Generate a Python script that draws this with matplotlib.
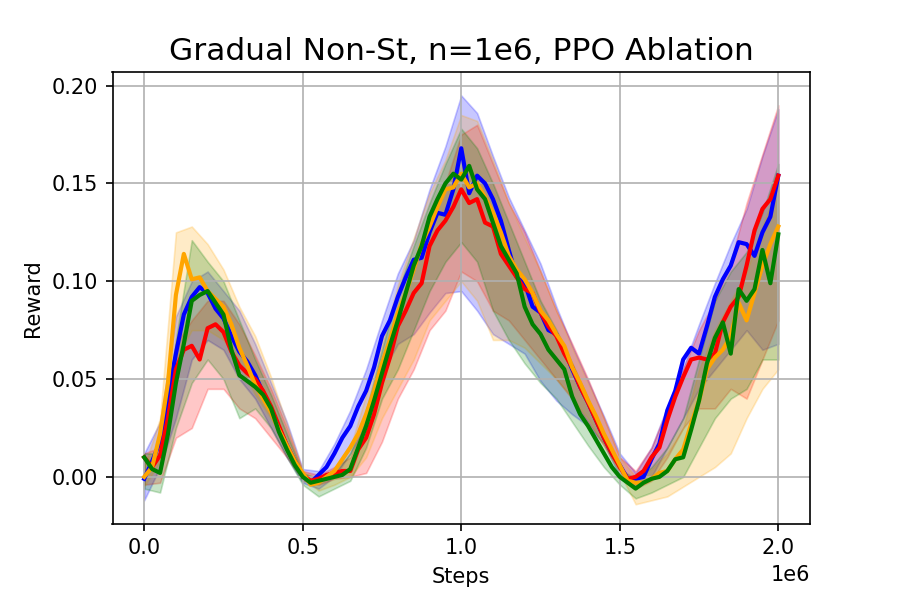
import numpy as np
import matplotlib
matplotlib.use("Agg")
import matplotlib.pyplot as plt
from matplotlib.ticker import MultipleLocator

# mean curves, read every 0.025e6 steps
steps = np.arange(81) * 0.025e6

blue_mean = [-0.001, 0.008, 0.018, 0.041, 0.063, 0.083, 0.092, 0.097, 0.094, 0.086,
             0.081, 0.072, 0.064, 0.059, 0.052, 0.043, 0.034, 0.025, 0.016, 0.008,
             0.001, -0.003, 0.001, 0.005, 0.012, 0.020, 0.026, 0.036, 0.044, 0.056,
             0.072, 0.080, 0.092, 0.102, 0.111, 0.112, 0.125, 0.135, 0.134, 0.147,
             0.168, 0.145, 0.154, 0.150, 0.142, 0.131, 0.116, 0.102, 0.099, 0.087,
             0.084, 0.075, 0.073, 0.065, 0.055, 0.046, 0.038, 0.029, 0.020, 0.012,
             0.006, -0.001, -0.001, 0.000, 0.009, 0.017, 0.034, 0.044, 0.060, 0.066,
             0.063, 0.077, 0.092, 0.101, 0.108, 0.120, 0.119, 0.113, 0.125, 0.133,
             0.154]
red_mean = [0.010, 0.005, 0.011, 0.030, 0.055, 0.065, 0.067, 0.060, 0.076, 0.078,
            0.074, 0.064, 0.057, 0.053, 0.050, 0.044, 0.036, 0.026, 0.016, 0.008,
            0.001, -0.002, -0.001, 0.001, 0.002, 0.003, 0.003, 0.014, 0.020, 0.032,
            0.048, 0.061, 0.077, 0.085, 0.094, 0.099, 0.118, 0.126, 0.131, 0.138,
            0.147, 0.140, 0.142, 0.130, 0.128, 0.114, 0.108, 0.102, 0.096, 0.094,
            0.084, 0.077, 0.072, 0.063, 0.056, 0.046, 0.038, 0.029, 0.020, 0.012,
            0.005, -0.001, 0.000, 0.003, 0.010, 0.015, 0.029, 0.041, 0.051, 0.060,
            0.061, 0.060, 0.063, 0.079, 0.087, 0.092, 0.108, 0.126, 0.137, 0.142,
            0.154]
orange_mean = [0.000, 0.005, 0.022, 0.048, 0.093, 0.114, 0.101, 0.102, 0.095, 0.091,
               0.087, 0.078, 0.066, 0.057, 0.047, 0.040, 0.033, 0.024, 0.016, 0.008,
               0.002, -0.004, -0.003, 0.000, 0.003, 0.009, 0.015, 0.022, 0.032, 0.044,
               0.058, 0.070, 0.084, 0.094, 0.106, 0.119, 0.128, 0.138, 0.147, 0.148,
               0.155, 0.148, 0.150, 0.143, 0.135, 0.125, 0.113, 0.106, 0.101, 0.094,
               0.085, 0.080, 0.073, 0.067, 0.056, 0.048, 0.039, 0.031, 0.022, 0.014,
               0.006, -0.002, -0.003, -0.003, -0.001, 0.002, 0.003, 0.009, 0.014, 0.027,
               0.039, 0.055, 0.061, 0.065, 0.072, 0.089, 0.080, 0.094, 0.108, 0.119,
               0.128]
green_mean = [0.010, 0.004, 0.002, 0.022, 0.048, 0.068, 0.090, 0.093, 0.095, 0.089,
              0.083, 0.065, 0.052, 0.049, 0.046, 0.042, 0.035, 0.023, 0.014, 0.006,
              0.000, -0.003, -0.002, -0.001, 0.000, 0.001, 0.004, 0.015, 0.026, 0.039,
              0.053, 0.067, 0.080, 0.094, 0.108, 0.118, 0.133, 0.142, 0.150, 0.155,
              0.152, 0.159, 0.147, 0.142, 0.130, 0.118, 0.111, 0.104, 0.087, 0.078,
              0.073, 0.065, 0.060, 0.055, 0.041, 0.032, 0.026, 0.019, 0.012, 0.005,
              0.000, -0.003, -0.006, -0.003, -0.001, 0.000, 0.003, 0.009, 0.010, 0.024,
              0.039, 0.058, 0.071, 0.079, 0.063, 0.096, 0.090, 0.096, 0.116, 0.099,
              0.124]

# shaded bands, read every 0.05e6 steps
band_steps = np.arange(41) * 0.05e6

blue_lo = [-0.012, 0.005, 0.030, 0.060, 0.070, 0.065, 0.050, 0.040, 0.025, 0.010,
           -0.003, -0.006, 0.000, 0.012, 0.026, 0.053, 0.068, 0.073, 0.084, 0.094,
           0.095, 0.085, 0.073, 0.068, 0.063, 0.049, 0.039, 0.032, 0.026, 0.017,
           0.000, -0.005, 0.000, 0.015, 0.030, 0.045, 0.055, 0.065, 0.075, 0.065,
           0.068]
blue_hi = [0.012, 0.028, 0.082, 0.100, 0.105, 0.095, 0.085, 0.068, 0.048, 0.028,
           0.004, 0.003, 0.017, 0.034, 0.055, 0.080, 0.104, 0.121, 0.147, 0.169,
           0.195, 0.186, 0.164, 0.143, 0.126, 0.109, 0.087, 0.067, 0.049, 0.031,
           0.012, 0.002, 0.015, 0.036, 0.056, 0.078, 0.099, 0.119, 0.137, 0.164,
           0.188]
red_lo = [-0.004, -0.003, 0.020, 0.025, 0.045, 0.045, 0.035, 0.030, 0.020, 0.010,
          -0.002, -0.004, -0.001, 0.000, 0.002, 0.018, 0.040, 0.055, 0.075, 0.085,
          0.105, 0.100, 0.085, 0.080, 0.070, 0.060, 0.050, 0.040, 0.028, 0.016,
          0.003, -0.006, -0.002, 0.010, 0.025, 0.035, 0.035, 0.045, 0.040, 0.060,
          0.080]
red_hi = [0.012, 0.015, 0.068, 0.080, 0.090, 0.090, 0.078, 0.062, 0.045, 0.025,
          0.003, 0.001, 0.005, 0.010, 0.030, 0.060, 0.085, 0.105, 0.130, 0.150,
          0.175, 0.180, 0.160, 0.140, 0.125, 0.105, 0.085, 0.068, 0.050, 0.030,
          0.010, 0.003, 0.015, 0.035, 0.055, 0.075, 0.090, 0.110, 0.140, 0.165,
          0.190]
orange_lo = [-0.005, 0.008, 0.060, 0.075, 0.075, 0.070, 0.058, 0.042, 0.030, 0.015,
             0.000, -0.007, -0.004, 0.000, 0.010, 0.030, 0.045, 0.060, 0.080, 0.090,
             0.100, 0.090, 0.070, 0.070, 0.066, 0.058, 0.050, 0.040, 0.030, 0.016,
             0.002, -0.014, -0.012, -0.010, -0.005, 0.000, 0.005, 0.012, 0.030, 0.045,
             0.055]
orange_hi = [0.005, 0.030, 0.125, 0.128, 0.119, 0.106, 0.087, 0.072, 0.051, 0.027,
             0.003, -0.001, 0.004, 0.015, 0.042, 0.068, 0.098, 0.122, 0.145, 0.162,
             0.185, 0.182, 0.162, 0.140, 0.122, 0.105, 0.085, 0.066, 0.048, 0.030,
             0.010, 0.000, 0.004, 0.012, 0.025, 0.055, 0.075, 0.090, 0.105, 0.128,
             0.150]
green_lo = [-0.006, -0.008, 0.025, 0.048, 0.060, 0.050, 0.030, 0.035, 0.025, 0.010,
            -0.004, -0.010, -0.006, -0.002, 0.015, 0.040, 0.055, 0.075, 0.095, 0.110,
            0.120, 0.110, 0.085, 0.070, 0.058, 0.048, 0.040, 0.028, 0.016, 0.005,
            -0.004, -0.011, -0.008, -0.004, 0.000, 0.015, 0.030, 0.040, 0.045, 0.060,
            0.060]
green_hi = [0.012, 0.012, 0.070, 0.121, 0.110, 0.100, 0.080, 0.060, 0.042, 0.022,
            0.002, -0.001, 0.002, 0.012, 0.034, 0.065, 0.095, 0.118, 0.140, 0.160,
            0.178, 0.168, 0.150, 0.130, 0.110, 0.090, 0.075, 0.058, 0.040, 0.022,
            0.004, -0.001, 0.005, 0.015, 0.030, 0.060, 0.090, 0.105, 0.115, 0.135,
            0.160]

series = [
    ("blue", blue_mean, blue_lo, blue_hi),
    ("red", red_mean, red_lo, red_hi),
    ("orange", orange_mean, orange_lo, orange_hi),
    ("green", green_mean, green_lo, green_hi),
]

fig = plt.figure(figsize=(6, 4), dpi=150)
fig.subplots_adjust(left=0.125, right=0.9, top=0.88, bottom=0.127)
ax = fig.add_subplot(111)

for color, mean, lo, hi in series:
    ax.fill_between(band_steps, lo, hi, color=color, alpha=0.22, linewidth=0.8)
    ax.plot(steps, mean, color=color, linewidth=2)

ax.xaxis.set_major_locator(MultipleLocator(0.5e6))
ax.set_xlim(-0.1e6, 2.1e6)
ax.set_ylim(-0.024, 0.207)
ax.grid(True)
ax.set_title("Gradual Non-St, n=1e6, PPO Ablation", fontsize=15)
ax.set_xlabel("Steps")
ax.set_ylabel("Reward")

fig.savefig("out.png", dpi=150)
plt.close(fig)
